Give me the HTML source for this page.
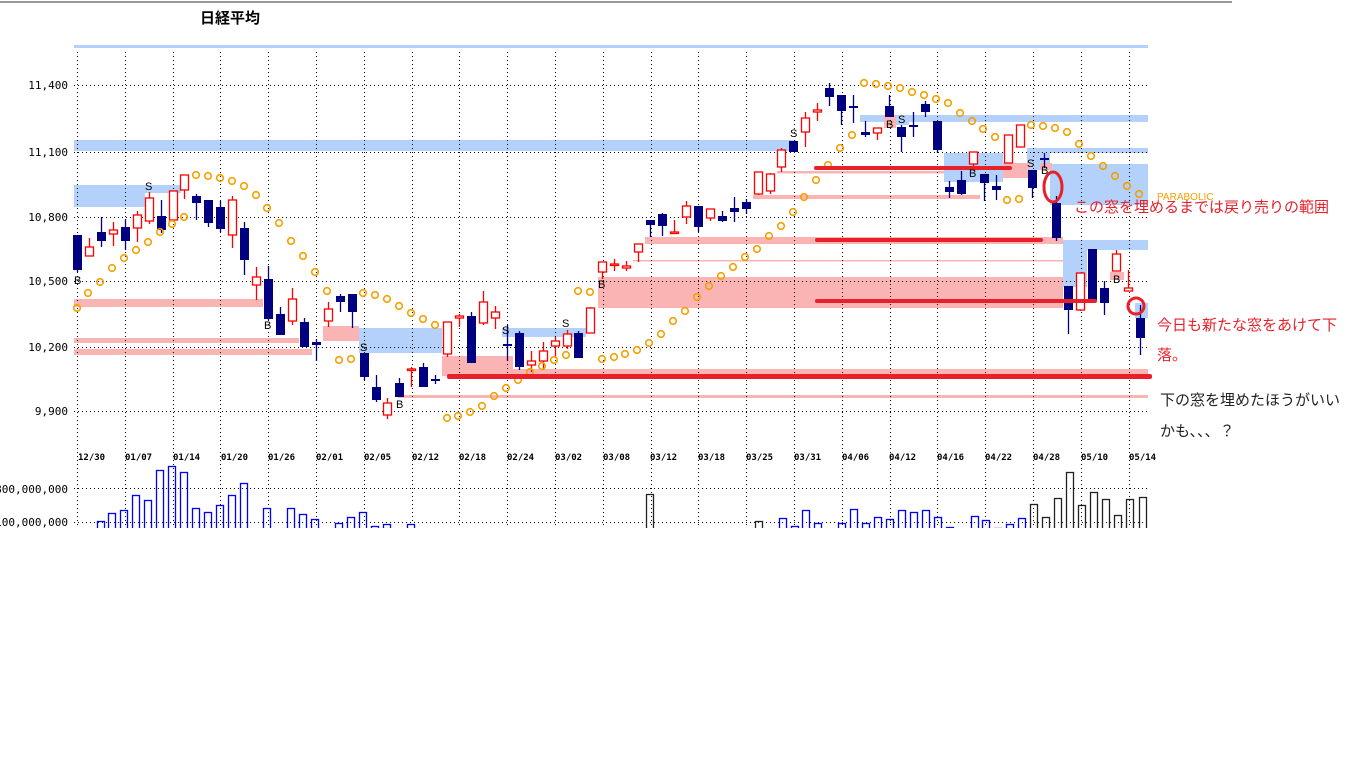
<!DOCTYPE html>
<html><head><meta charset="utf-8"><style>
html,body{margin:0;padding:0;background:#fff;width:1368px;height:768px;overflow:hidden}
svg{position:absolute;left:0;top:0}
.ax{font-family:"DejaVu Sans Mono","Liberation Mono",monospace;font-size:11px;fill:#000}
.dt{font-family:"DejaVu Sans Mono","Liberation Mono",monospace;font-size:9px;font-weight:bold;fill:#000}
.bs{font-family:"Liberation Sans",sans-serif;font-size:11px;fill:#000}
.jp{font-family:"Liberation Sans","Noto Sans CJK JP",sans-serif;font-size:15px}
</style></head><body>
<svg id="s" width="1368" height="768" xmlns="http://www.w3.org/2000/svg">
<rect x="0" y="1" width="1232" height="2" fill="#999"/>
<text x="200" y="23" font-family="Liberation Sans,Noto Sans CJK JP,sans-serif" font-size="15" font-weight="bold">日経平均</text>
<rect x="74" y="45" width="1074" height="3" fill="#b3d1fa"/>
<g id="zones">
<rect x="74" y="140" width="722" height="11" fill="#b3d1fa"/>
<rect x="74" y="185" width="71" height="22" fill="#b3d1fa"/>
<rect x="145" y="185" width="36" height="8" fill="#b3d1fa"/>
<rect x="359" y="328" width="83" height="25" fill="#b3d1fa"/>
<rect x="502" y="328" width="84" height="9" fill="#b3d1fa"/>
<rect x="860" y="115" width="288" height="7" fill="#b3d1fa"/>
<rect x="896" y="115" width="13" height="10" fill="#b3d1fa"/>
<rect x="944" y="153" width="59" height="29" fill="#b3d1fa"/>
<rect x="1027" y="148" width="121" height="5" fill="#b3d1fa"/>
<rect x="1027" y="148" width="23" height="22" fill="#b3d1fa"/>
<rect x="1050" y="164" width="98" height="41" fill="#b3d1fa"/>
<rect x="1063" y="240" width="85" height="10" fill="#b3d1fa"/>
<rect x="1063" y="240" width="24" height="47" fill="#b3d1fa"/>
<rect x="1135" y="303" width="13" height="15" fill="#b3d1fa"/>
<rect x="884" y="115" width="12" height="13" fill="#fbb4b4"/>
<rect x="74" y="299" width="189" height="8" fill="#fbb4b4"/>
<rect x="74" y="338" width="225" height="5" fill="#fbb4b4"/>
<rect x="74" y="349" width="238" height="6" fill="#fbb4b4"/>
<rect x="323" y="326" width="36" height="15" fill="#fbb4b4"/>
<rect x="442" y="356" width="71" height="20" fill="#fbb4b4"/>
<rect x="513" y="369" width="635" height="6" fill="#fbb4b4"/>
<rect x="398" y="395" width="750" height="3" fill="#fbb4b4"/>
<rect x="598" y="277" width="465" height="31" fill="#fbb4b4"/>
<rect x="633" y="260" width="430" height="1.5" fill="#fbb4b4"/>
<rect x="645" y="237" width="418" height="7" fill="#fbb4b4"/>
<rect x="753" y="195" width="227" height="4" fill="#fbb4b4"/>
<rect x="777" y="171" width="167" height="2.5" fill="#fbb4b4"/>
<rect x="1003" y="163" width="27" height="15" fill="#fbb4b4"/>
<rect x="1040" y="163" width="12" height="7" fill="#fbb4b4"/>
<rect x="1110" y="272" width="14" height="8" fill="#fbb4b4"/>
</g>
<g id="grid" stroke="#000" stroke-width="1" stroke-dasharray="1,3"></g>
<g id="cd"></g>
<g id="dots" fill="none" stroke="#f5a000" stroke-width="1.6"></g>
<g fill="#e8202a">
<rect x="814" y="166" width="198" height="4" rx="2"/>
<rect x="815" y="238" width="228" height="4" rx="2"/>
<rect x="815" y="299" width="282" height="4" rx="2"/>
<rect x="447" y="374" width="705" height="5" rx="2"/>
</g>
<ellipse cx="1053" cy="187" rx="9" ry="15" fill="none" stroke="#e8202a" stroke-width="3"/>
<circle cx="1136" cy="306" r="8" fill="none" stroke="#e8202a" stroke-width="3"/>
<g class="bs">
<text x="74" y="284">B</text><text x="145" y="190">S</text><text x="264" y="329">B</text>
<text x="360" y="351">S</text><text x="396" y="408">B</text><text x="502" y="334">S</text>
<text x="562" y="327">S</text><text x="598" y="288">B</text><text x="790" y="137">S</text>
<text x="886" y="128">B</text><text x="898" y="123">S</text><text x="969" y="177">B</text>
<text x="1027" y="167">S</text><text x="1041" y="174">B</text><text x="1113" y="283">B</text>
</g>
<g class="ax" text-anchor="end">
<text x="68" y="89">11,400</text><text x="68" y="156">11,100</text><text x="68" y="221">10,800</text>
<text x="68" y="285">10,500</text><text x="68" y="351">10,200</text><text x="68" y="415">9,900</text>
<text x="68" y="493">1,800,000,000</text><text x="68" y="526">1,100,000,000</text>
</g>
<g class="dt">
<text x="78" y="460">12/30</text><text x="125" y="460">01/07</text><text x="173" y="460">01/14</text>
<text x="221" y="460">01/20</text><text x="268" y="460">01/26</text><text x="316" y="460">02/01</text>
<text x="364" y="460">02/05</text><text x="412" y="460">02/12</text><text x="459" y="460">02/18</text>
<text x="507" y="460">02/24</text><text x="555" y="460">03/02</text><text x="603" y="460">03/08</text>
<text x="650" y="460">03/12</text><text x="698" y="460">03/18</text><text x="746" y="460">03/25</text>
<text x="794" y="460">03/31</text><text x="842" y="460">04/06</text><text x="889" y="460">04/12</text>
<text x="937" y="460">04/16</text><text x="985" y="460">04/22</text><text x="1033" y="460">04/28</text>
<text x="1081" y="460">05/10</text><text x="1129" y="460">05/14</text>
</g>
<g id="vol" fill="none" stroke-width="1.3"></g>
<rect x="0" y="528" width="1368" height="240" fill="#fff"/>
<text x="1157" y="200" font-family="Liberation Sans,sans-serif" font-size="10" fill="#f5a000">PARABOLIC</text>
<text x="1074" y="212" class="jp" fill="#e8202a">この窓を埋めるまでは戻り売りの範囲</text>
<text x="1157" y="330" class="jp" fill="#e8202a">今日も新たな窓をあけて下</text>
<text x="1157" y="360" class="jp" fill="#e8202a">落。</text>
<text x="1160" y="405" class="jp" fill="#222">下の窓を埋めたほうがいい</text>
<text x="1160" y="436" class="jp" fill="#222">かも、、、？</text>
</svg>
<script>
var NS="http://www.w3.org/2000/svg";
function el(p,t,a){var e=document.createElementNS(NS,t);for(var k in a)e.setAttribute(k,a[k]);p.appendChild(e);return e;}
var g=document.getElementById("grid");
[85,152,217,281,347,411,488,522].forEach(function(y){el(g,"line",{x1:74,x2:1148,y1:y+.5,y2:y+.5});});
for(var k=0;k<23;k++){var x=Math.round(77+47.8*k)+.5;el(g,"line",{x1:x,x2:x,y1:52,y2:530});}
var C=[[235,270,235,272,0],[247,256,238,256,1],[232,241,217,247,0],[230,234,222,246,1],[227,241,219,250,0],[215,228,211,242,1],[198,221,192,224,1],[216,230,200,233,0],[191,220,191,222,1],[175,190,175,199,1],[196,203,194,220,0],[200,223,200,227,0],[207,229,201,232,0],[200,235,196,248,1],[228,260,222,275,0],[277,285,267,300,1],[279,319,266,320,0],[314,335,307,335,0],[299,321,288,325,1],[322,347,318,347,0],[342,345,339,361,0],[309,321,302,327,1],[296,302,294,312,0],[294,312,294,328,0],[353,377,353,380,0],[387,400,375,402,0],[403,415,398,419,1],[383,397,378,397,0],[369,370,367,387,1],[367,387,363,387,0],[379,381,375,384,0],[322,354,322,357,1],[316,318,314,327,1],[316,363,312,363,0],[302,323,291,325,1],[312,318,306,329,1],[344,346,325,361,0],[333,367,331,370,0],[361,365,351,372,1],[351,361,342,370,1],[341,346,337,358,1],[334,346,330,349,1],[333,358,331,358,0],[308,333,307,333,1],[262,272,262,279,1],[264,265,259,271,1],[266,268,261,271,1],[244,252,244,262,1],[220,225,220,237,0],[214,226,213,236,0],[232,233,220,233,1],[206,217,201,224,1],[206,227,206,232,0],[209,218,209,221,1],[216,221,211,222,0],[208,212,197,222,0],[202,209,199,214,0],[172,194,172,195,1],[174,191,173,194,1],[150,167,148,172,1],[141,152,141,152,0],[118,132,112,147,1],[110,112,103,121,1],[88,97,83,106,0],[95,111,95,125,0],[106,108,95,123,0],[132,135,121,137,0],[128,133,128,140,1],[106,117,95,117,0],[127,137,125,152,0],[125,127,112,137,0],[104,112,101,117,0],[121,150,121,153,0],[187,192,181,198,0],[180,194,171,195,0],[152,164,152,167,1],[174,183,174,201,0],[186,190,175,200,0],[135,163,135,163,1],[125,147,125,147,1],[170,188,170,198,0],[158,160,153,168,0],[203,238,196,241,0],[286,310,286,334,0],[273,310,273,311,1],[249,300,249,300,0],[288,303,281,315,0],[254,271,250,271,1],[288,291,270,291,1],[318,338,305,355,0]];
var cd=document.getElementById("cd");
C.forEach(function(c,i){var x=Math.round(77+11.94*i);var col=c[4]?"#ff0000":"#000080";
el(cd,"line",{x1:x+.5,x2:x+.5,y1:c[2],y2:c[3],stroke:col,"stroke-width":1.3});
var h=Math.max(c[1]-c[0],1.5);
if(c[4])el(cd,"rect",{x:x-3.5,y:c[0],width:8,height:h,fill:"#fff",stroke:col,"stroke-width":1.3});
else el(cd,"rect",{x:x-4,y:c[0],width:9,height:h,fill:col});});
var D=[[77,308],[88,293],[100,282],[112,268],[124,258],[136,250],[148,242],[160,232],[172,224],[184,217],[196,175],[208,176],[220,178],[232,181],[244,186],[256,195],[267,208],[279,223],[291,241],[303,256],[315,272],[327,291],[339,360],[351,359],[363,293],[375,295],[387,299],[399,306],[411,313],[423,319],[435,325],[447,418],[458,416],[470,412],[482,406],[494,396],[506,388],[518,380],[530,372],[542,366],[554,360],[566,355],[578,291],[590,292],[602,359],[614,357],[625,354],[637,350],[649,343],[661,334],[673,321],[685,311],[697,297],[709,286],[721,276],[733,267],[745,257],[757,249],[769,236],[781,226],[793,212],[804,197],[816,180],[828,165],[840,148],[852,135],[864,83],[876,84],[888,86],[900,88],[912,92],[924,95],[936,99],[948,103],[960,113],[972,121],[983,129],[995,137],[1007,200],[1019,199],[1031,125],[1043,126],[1055,128],[1067,132],[1079,144],[1091,156],[1103,166],[1115,176],[1127,186],[1139,194]];
var dg=document.getElementById("dots");
D.forEach(function(d){el(dg,"circle",{cx:d[0],cy:d[1],r:3.3});});
var V=[[97,521],[108,513],[120,510],[132,495],[144,500],[156,470],[168,466],[180,472],[192,508],[204,512],[216,505],[228,495],[240,483],[263,508],[287,508],[299,514],[311,519],[335,523],[347,517],[359,512],[371,526],[383,524],[407,524],[646,494,1],[683,529],[695,529],[755,521,1],[767,529,1],[779,518],[791,526],[802,510],[814,523],[838,523],[850,509],[862,523],[874,517],[886,519],[898,510],[910,512],[922,510],[934,517],[946,527],[971,516],[982,520],[994,528],[1006,524],[1018,518],[1030,504,1],[1042,517,1],[1054,498,1],[1066,472,1],[1078,505,1],[1090,492,1],[1102,499,1],[1114,515,1],[1126,499,1],[1139,497,1]];
var vg=document.getElementById("vol");
V.forEach(function(v){el(vg,"rect",{x:v[0]+.5,y:v[1]+.5,width:7,height:540-v[1],stroke:v[2]?"#222":"#0000ff"});});
</script>
</body></html>
